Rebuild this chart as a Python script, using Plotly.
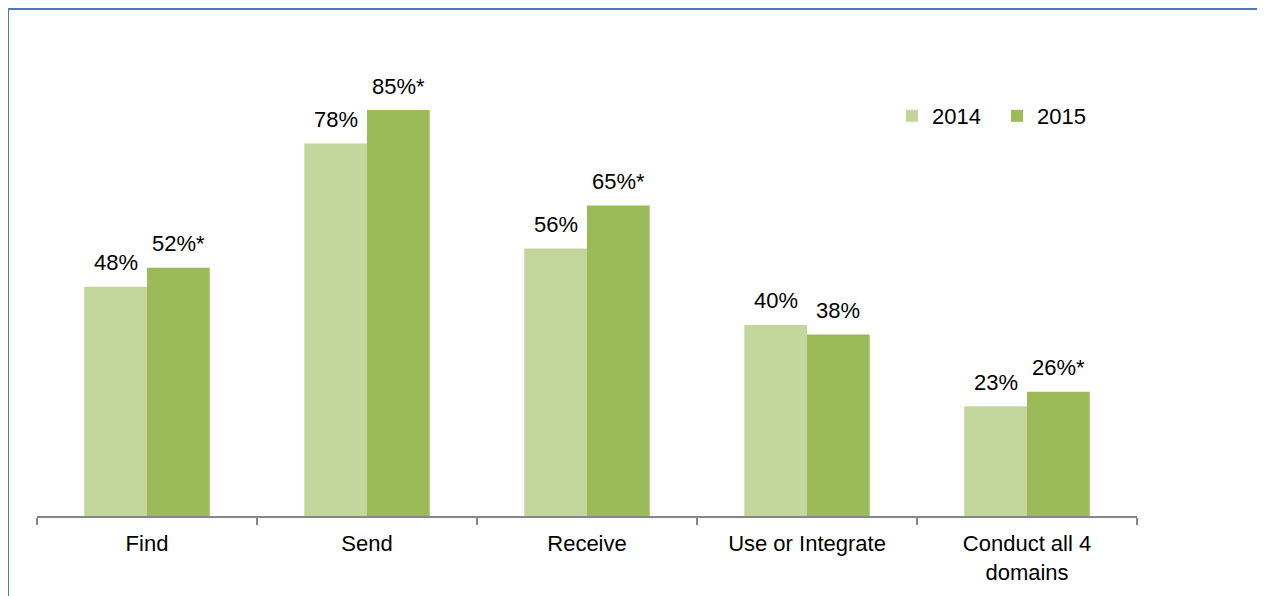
import plotly.graph_objects as go

categories = ["Find", "Send", "Receive", "Use or Integrate", "Conduct all 4<br>domains"]
values_2014 = [48, 78, 56, 40, 23]
values_2015 = [52, 85, 65, 38, 26]
labels_2014 = ["48%", "78%", "56%", "40%", "23%"]
labels_2015 = ["52%*", "85%*", "65%*", "38%", "26%*"]

FONT = "Liberation Sans, Arial, sans-serif"
FS = 22

# figure is placed 8px from the page corner, so work in figure pixels
W, H = 1257, 588
L, T = 29, 22
PLOT_R, BASE = 1129, 508
R, B = W - PLOT_R, H - BASE
pw = PLOT_R - L
ph = BASE - T
PX_PER_UNIT = 4.776

def px_x(x):
    return (x - L) / pw

def px_y(y):
    return (BASE - y) / ph

fig = go.Figure()
fig.add_trace(go.Bar(x=categories, y=values_2014, name="2014", marker_color="#C3D69B",
                     marker_line_width=0))
fig.add_trace(go.Bar(x=categories, y=values_2015, name="2015", marker_color="#9BBB59",
                     marker_line_width=0))

annotations = []
for cat, v, t in zip(categories, values_2014, labels_2014):
    annotations.append(dict(x=cat, y=v, xref="x", yref="y", text=t, showarrow=False,
                            xshift=-31, yshift=24, yanchor="middle",
                            font=dict(size=FS, family=FONT, color="#000000")))
for cat, v, t in zip(categories, values_2015, labels_2015):
    annotations.append(dict(x=cat, y=v, xref="x", yref="y", text=t, showarrow=False,
                            xshift=31, yshift=24, yanchor="middle",
                            font=dict(size=FS, family=FONT, color="#000000")))

fig.update_layout(
    width=W, height=H,
    margin=dict(l=L, r=R, t=T, b=B, pad=0),
    paper_bgcolor="white", plot_bgcolor="white",
    barmode="group", bargap=0.43, bargroupgap=0,
    font=dict(family=FONT, size=FS, color="#000000"),
    showlegend=True,
    legend=dict(orientation="h", x=px_x(884), y=px_y(87), xanchor="left", yanchor="top",
                font=dict(size=FS, family=FONT), bgcolor="rgba(0,0,0,0)",
                itemwidth=30, traceorder="normal", entrywidth=60),
    xaxis=dict(showline=True, linecolor="#868686", linewidth=1.5, ticks="outside",
               tickson="boundaries", ticklen=7, tickcolor="#868686", tickwidth=1.5,
               ticklabelstandoff=7, automargin=False,
               tickfont=dict(size=FS, family=FONT, color="#000000"), showgrid=False),
    yaxis=dict(range=[0, ph / PX_PER_UNIT], visible=False, showgrid=False, zeroline=False,
               automargin=False),
    annotations=annotations,
    shapes=[dict(type="rect", xref="paper", yref="paper",
                 x0=px_x(0), x1=px_x(1251), y0=px_y(620), y1=px_y(1),
                 line=dict(color="#4A7EBB", width=2), fillcolor="rgba(0,0,0,0)", layer="below")],
)

fig.write_html("out.html")
